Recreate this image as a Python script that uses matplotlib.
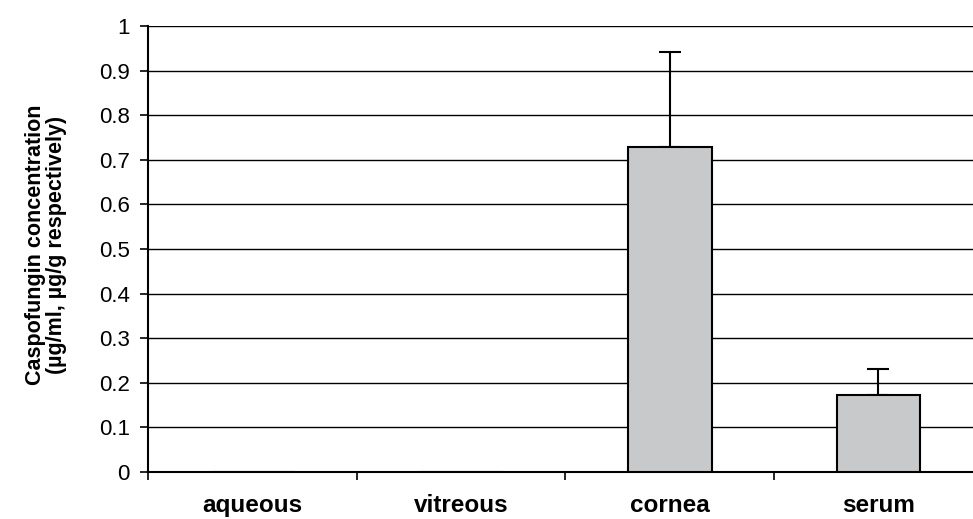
import numpy as np
import matplotlib.pyplot as plt

plt.rcParams['font.family'] = ['Liberation Sans', 'DejaVu Sans']

# --- data ---
tissues = ['aqueous', 'vitreous', 'cornea', 'serum']
conc = [0.0, 0.0, 0.729, 0.173]
err_up = [0.0, 0.0, 0.212, 0.058]
y_ticks = np.round(np.arange(0, 1.01, 0.1), 1)

fig = plt.figure(figsize=(9.73, 5.19), dpi=100)
# axes runs a bit past the right edge, as in the original
ax = fig.add_axes([0.1521, 0.0906, 0.858, 0.859])

x = np.arange(len(tissues))
ax.bar(x, conc, width=0.40, color='#c8c9cb', edgecolor='black', linewidth=1.5, zorder=3)
yerr = np.vstack([np.zeros(len(err_up)), err_up])
mask = np.array(err_up) > 0
ax.errorbar(x[mask], np.array(conc)[mask], yerr=yerr[:, mask], fmt='none',
            ecolor='black', elinewidth=1.5, capsize=8, capthick=1.5, zorder=2)

ax.set_xlim(-0.5, len(tissues) - 0.5)
ax.set_ylim(0, 1)
ax.set_yticks(y_ticks)
ax.set_yticklabels([f'{v:g}' for v in y_ticks], fontsize=16)
ax.yaxis.grid(True, color='black', linewidth=1.0, zorder=0)
ax.set_axisbelow(True)

ax.set_xticks(x)
ax.set_xticklabels(tissues, fontsize=17.5, fontweight='bold')
ax.set_xticks(np.arange(-0.5, len(tissues), 1), minor=True)
ax.tick_params(axis='x', which='major', length=0, pad=16)
ax.tick_params(axis='x', which='minor', length=6, width=1.2, direction='out')
ax.tick_params(axis='y', length=6, width=1.2, pad=7, direction='out')

for s in ['top', 'right']:
    ax.spines[s].set_visible(False)
ax.spines['left'].set_linewidth(1.5)
ax.spines['bottom'].set_linewidth(1.5)

ax.set_ylabel('Caspofungin concentration\n(µg/ml, µg/g respectively)',
              fontsize=15.5, fontweight='bold', linespacing=1.0)
ax.yaxis.set_label_coords(-0.097, 0.51)

fig.savefig('out.png', dpi=100)
